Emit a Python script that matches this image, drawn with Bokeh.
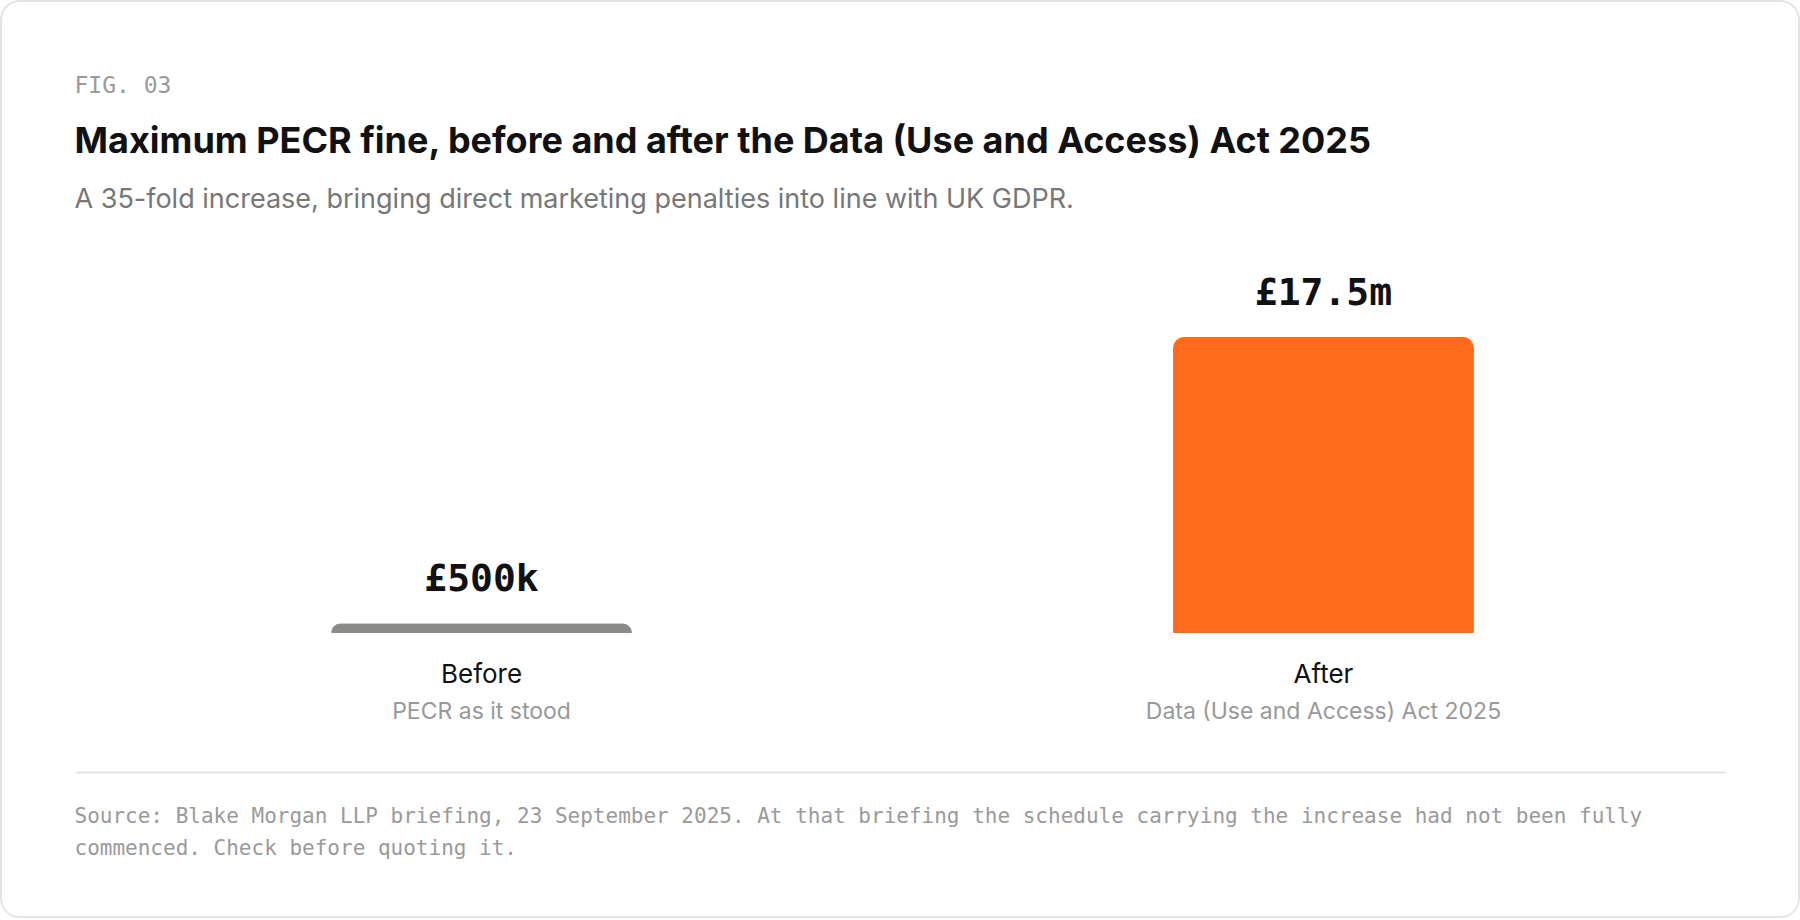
from bokeh.plotting import figure
from bokeh.models import Range1d, FactorRange, Label, BoxAnnotation, ColumnDataSource
from bokeh.core.properties import value
from bokeh.embed import file_html
from bokeh.resources import INLINE

# ---- data ----
categories = ["Before", "After"]
fines_gbp_m = [0.5, 17.5]
value_labels = ["£500k", "£17.5m"]
sublabels = ["PECR as it stood", "Data (Use and Access) Act 2025"]
bar_colors = ["#8A8A86", "#FF6B1C"]

fig_label = "FIG. 03"
title_text = "Maximum PECR fine, before and after the Data (Use and Access) Act 2025"
subtitle_text = "A 35-fold increase, bringing direct marketing penalties into line with UK GDPR."
footer_lines = [
    "Source: Blake Morgan LLP briefing, 23 September 2025. At that briefing the schedule carrying the increase had not been fully",
    "commenced. Check before quoting it.",
]

# ---- layout ----
W, H = 1800, 918
BASE_PX = 288            # screen px (from bottom) where zero sits
PX_PER_UNIT = 295 / 17.5

src = ColumnDataSource(dict(cat=categories, val=fines_gbp_m, label=value_labels,
                            sub=sublabels, color=bar_colors))

p = figure(width=W, height=H,
           x_range=FactorRange(*categories, range_padding=0.069, range_padding_units="absolute"),
           y_range=Range1d(-BASE_PX / PX_PER_UNIT, (H - BASE_PX) / PX_PER_UNIT),
           output_backend="svg", toolbar_location=None,
           x_axis_location=None, y_axis_location=None, min_border=0)
p.grid.visible = False
p.outline_line_color = None
p.background_fill_color = "white"
p.border_fill_color = "white"
p.styles = {"border": "2px solid #E4E4E4", "border-radius": "20px", "overflow": "hidden"}

p.vbar(x="cat", top="val", bottom=0, width=0.356, color="color", source=src,
       border_radius=(10, 10, 0, 0))

p.text(x="cat", y="val", text="label", y_offset=-46, source=src,
       text_align="center", text_baseline="alphabetic",
       text_font=value("DejaVu Sans Mono"), text_font_size="38px",
       text_font_style="bold", text_color="#111111")

p.text(x="cat", y=0, text="cat", y_offset=41, source=src,
       text_align="center", text_baseline="alphabetic",
       text_font=value("Inter"), text_font_size="26px", text_color="#111111")

p.text(x="cat", y=0, text="sub", y_offset=78, source=src,
       text_align="center", text_baseline="alphabetic",
       text_font=value("Inter"), text_font_size="23px", text_color="#999999")

def add_label(text, x, y, font, size, color, style="normal"):
    p.add_layout(Label(x=x, y=y, x_units="screen", y_units="screen", text=text,
                       text_font=font, text_font_size=size, text_color=color,
                       text_font_style=style, text_baseline="alphabetic",
                       text_align="left"))

add_label(fig_label, 72, 836, "DejaVu Sans Mono", "23px", "#9A9A9A")
add_label(title_text, 72, 781, "Inter", "36px", "#111111", "bold")
add_label(subtitle_text, 72, 722, "Inter", "27px", "#777777")
add_label(footer_lines[0], 72, 105, "DejaVu Sans Mono", "21px", "#9A9A9A")
add_label(footer_lines[1], 72, 73, "DejaVu Sans Mono", "21px", "#9A9A9A")

p.add_layout(BoxAnnotation(left=73, right=1723, bottom=147, top=149,
                           left_units="screen", right_units="screen",
                           bottom_units="screen", top_units="screen",
                           fill_color="#E4E4E4", fill_alpha=1.0, line_color=None))

open("out.html", "w").write(file_html(p, INLINE))
